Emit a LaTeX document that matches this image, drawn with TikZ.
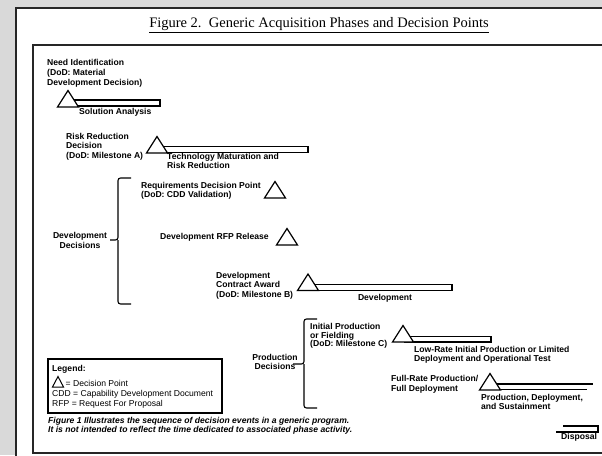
\documentclass[tikz,border=0pt]{standalone}
\usepackage{fontspec}
\setmainfont{Liberation Serif}
\setsansfont{Liberation Sans}

\begin{document}
\begin{tikzpicture}[x=1pt,y=-1pt,
    lbl/.style={font=\sffamily\bfseries\fontsize{8.6}{9.5}\selectfont, align=left, inner sep=0pt, anchor=north west},
    legtxt/.style={font=\sffamily\fontsize{8.6}{9.5}\selectfont, align=left, inner sep=0pt, anchor=north west},
    dpoint/.style={draw=black, fill=white, line width=1.2pt, line join=miter},
    phasebar/.style={draw=black, fill=white, line width=1.1pt},
    bracket/.style={draw=black, line width=1.1pt, rounded corners=2.5pt}]
    \useasboundingbox (0,0) rectangle (602,455);
    \fill[black!15] (0,0) rectangle (602,455);
    \clip (0,0) rectangle (602,455);
    % page and frame
    \draw[fill=white, line width=1.6pt, draw=black!85] (16,8) rectangle (640,480);
    \draw[line width=1.6pt, draw=black!85] (33,45) rectangle (630,453);
    \node[font=\fontsize{14.5}{17}\selectfont, inner sep=0pt] (title) at (319,25)
        {\underline{Figure 2.\ \ Generic Acquisition Phases and Decision Points}};
    % phase bars (under the triangles)
    \draw[phasebar] (70,100) rectangle (160,106);
    \draw[phasebar] (158,146.5) rectangle (308,152.5);
    \draw[phasebar] (310,284.5) rectangle (452,290.5);
    \draw[phasebar] (405,336.5) rectangle (491,342);
    \draw[line width=1.1pt] (488,384) -- (593,384);
    \draw[line width=1.1pt] (488,389.5) -- (587,389.5);
    \draw[line width=1.1pt] (563,426) -- (598,426) -- (598,432) -- (556,432);
    % decision points
    \foreach \ax/\by in {68/107, 157/153, 275/198, 287/245, 308/290.5, 403/342, 490/390}{
        \filldraw[dpoint] (\ax-10.5,\by) -- (\ax,\by-16.5) -- (\ax+10.5,\by) -- cycle;
    }
    % brackets
    \draw[bracket] (131,178) -- (118,178) -- (118,240) -- (110,240);
    \draw[bracket] (131,304) -- (118,304) -- (118,240);
    \draw[bracket] (317,319) -- (304,319) -- (304,364) -- (293,364);
    \draw[bracket] (317,408) -- (304,408) -- (304,364);
    % labels
    \node[lbl, font=\sffamily\bfseries\fontsize{8.6}{10}\selectfont] (needid) at (47,59.5)
        {Need Identification\\(DoD: Material\\Development Decision)};
    \node[lbl] (solan) at (79,108.5) {Solution Analysis};
    \node[lbl] (riskred) at (66,133.5) {Risk Reduction\\[-0.8pt]Decision\\[0.8pt](DoD: Milestone A)};
    \node[lbl, font=\sffamily\bfseries\fontsize{8.6}{9}\selectfont] (techmat) at (167,153.5)
        {Technology Maturation and\\Risk Reduction};
    \node[lbl, align=center, anchor=center, font=\sffamily\bfseries\fontsize{8.6}{10}\selectfont] (devdec) at (80,240)
        {Development\\Decisions};
    \node[lbl, font=\sffamily\bfseries\fontsize{8.6}{8.5}\selectfont] (reqdec) at (141,182.5)
        {Requirements Decision Point\\(DoD: CDD Validation)};
    \node[lbl] (rfprel) at (160,233.5) {Development RFP Release};
    \node[lbl, font=\sffamily\bfseries\fontsize{8.6}{8.5}\selectfont] (contract) at (216,272.5)
        {Development\\Contract Award\\[2pt](DoD: Milestone B)};
    \node[lbl, anchor=center] (devphase) at (385,298) {Development};
    \node[lbl, align=center, anchor=center, font=\sffamily\bfseries\fontsize{8.6}{8.5}\selectfont] (proddec) at (275,362)
        {Production\\Decisions};
    \node[lbl, font=\sffamily\bfseries\fontsize{8.6}{8.2}\selectfont] (initprod) at (310,323.5)
        {Initial Production\\or Fielding\\(DoD: Milestone C)};
    \node[lbl, font=\sffamily\bfseries\fontsize{8.6}{8.2}\selectfont] (lowrate) at (414,346.5)
        {Low-Rate Initial Production or Limited\\Deployment and Operational Test};
    \node[lbl] (fullrate) at (391,375.5) {Full-Rate Production/\\Full Deployment};
    \node[lbl, font=\sffamily\bfseries\fontsize{8.6}{8.2}\selectfont] (prodsust) at (481,394.5)
        {Production, Deployment,\\and Sustainment};
    \node[lbl] (disposal) at (561,433.5) {Disposal};
    % legend
    \draw[line width=1.3pt] (48,359) rectangle (222,413);
    \node[lbl] (legend) at (52,365.5) {Legend:};
    \filldraw[dpoint, line width=1pt] (52.5,387) -- (58,376.5) -- (63.5,387) -- cycle;
    \node[legtxt] (legtri) at (65.5,380.5) {= Decision Point};
    \node[legtxt] (legcdd) at (52,390.5) {CDD = Capability Development Document};
    \node[legtxt] (legrfp) at (52,400.5) {RFP = Request For Proposal};
    \node[lbl, font=\sffamily\bfseries\itshape\fontsize{8.6}{8.4}\selectfont] (note) at (48,417.5)
        {Figure 1 Illustrates the sequence of decision events in a generic program.\\It is not intended to reflect the time dedicated to associated phase activity.};
\end{tikzpicture}
\end{document}
